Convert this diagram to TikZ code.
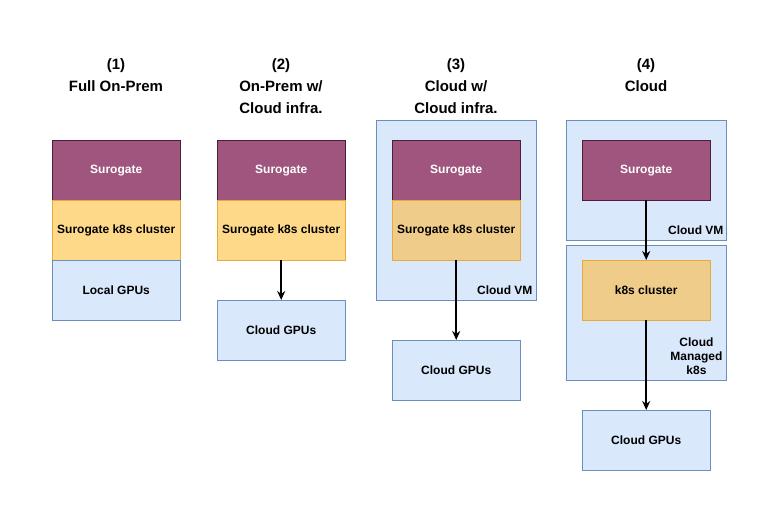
\documentclass[tikz,border=0pt]{standalone}
\usepackage{fontspec}
\setmainfont{Liberation Sans}
\usetikzlibrary{arrows.meta}
\definecolor{pur}{HTML}{A0557E}
\definecolor{purd}{HTML}{4A2038}
\definecolor{org}{HTML}{FFD98A}
\definecolor{orgd}{HTML}{F0CC8A}
\definecolor{orgb}{HTML}{E8A93A}
\definecolor{blu}{HTML}{DAE8FC}
\definecolor{blub}{HTML}{6C8EBF}
\begin{document}
\begin{tikzpicture}[x=1pt,y=-1pt,
 box/.style={minimum width=128pt,minimum height=60pt,inner sep=0pt,font=\fontsize{12}{14}\selectfont\bfseries,anchor=north west},
 sur/.style={box,fill=pur,draw=purd,text=white},
 k8/.style={box,fill=org,draw=orgb},
 gpu/.style={box,fill=blu,draw=blub},
 cont/.style={fill=blu,draw=blub,anchor=north west,inner sep=0pt},
 ttl/.style={font=\fontsize{15}{22}\selectfont\bfseries,align=center,anchor=north},
 lbl/.style={font=\fontsize{12}{14}\selectfont\bfseries,align=center},
 arr/.style={-{Stealth[length=9pt,width=8pt]},line width=1.6pt}]
\useasboundingbox (0,0) rectangle (777,521);
% titles
\node[ttl] (t1) at (116,55) {(1)\\Full On-Prem};
\node[ttl] (t2) at (281,55) {(2)\\On-Prem w/\\Cloud infra.};
\node[ttl] (t3) at (456,55) {(3)\\Cloud w/\\Cloud infra.};
\node[ttl] (t4) at (646,55) {(4)\\Cloud};
% col1
\node[sur] (s1) at (52,140) {Surogate};
\node[k8] (k1) at (52,200) {Surogate k8s cluster};
\node[gpu] (g1) at (52,260) {Local GPUs};
% col2
\node[sur] (s2) at (217,140) {Surogate};
\node[k8] (k2) at (217,200) {Surogate k8s cluster};
\node[gpu] (g2) at (217,300) {Cloud GPUs};
\draw[arr] (k2.south) -- (g2.north);
% col3
\node[cont,minimum width=160pt,minimum height=180pt] (vm3) at (376,120) {};
\node[lbl,anchor=south east] (l3) at (536,298) {Cloud VM};
\node[sur] (s3) at (392,140) {Surogate};
\node[k8,fill=orgd] (k3) at (392,200) {Surogate k8s cluster};
\node[gpu] (g3) at (392,340) {Cloud GPUs};
\draw[arr] (k3.south) -- (g3.north);
% col4
\node[cont,minimum width=160pt,minimum height=120pt] (vm4) at (566,120) {};
\node[lbl,anchor=south east] (l4) at (727,238) {Cloud VM};
\node[cont,minimum width=160pt,minimum height=135pt] (mk) at (566,245) {};
\node[lbl,anchor=south east] (l5) at (726,378) {Cloud\\Managed\\k8s};
\node[sur] (s4) at (582,140) {Surogate};
\node[k8,fill=orgd] (k4) at (582,260) {k8s cluster};
\node[gpu] (g4) at (582,410) {Cloud GPUs};
\draw[arr] (s4.south) -- (k4.north);
\draw[arr] (k4.south) -- (g4.north);
\end{tikzpicture}
\end{document}
